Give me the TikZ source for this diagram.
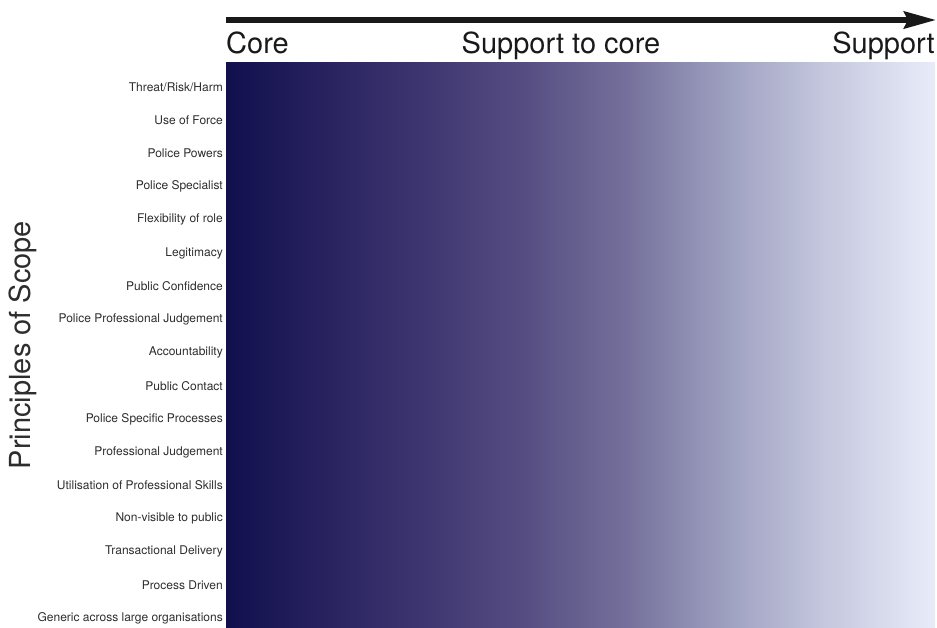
\documentclass[tikz,border=0pt]{standalone}
\usepackage{fontspec}
\setmainfont{TeX Gyre Heros}
\usepackage{tikz}
\usetikzlibrary{arrows.meta}
\usepackage{xcolor}
\definecolor{scopeink}{RGB}{45,45,45}
\definecolor{axisink}{RGB}{25,25,25}
\definecolor{fadeA}{RGB}{17,15,78}
\definecolor{fadeB}{RGB}{40,35,96}
\definecolor{fadeC}{RGB}{62,54,112}
\definecolor{fadeD}{RGB}{86,78,130}
\definecolor{fadeE}{RGB}{116,112,155}
\definecolor{fadeF}{RGB}{158,160,192}
\definecolor{fadeG}{RGB}{197,200,222}
\definecolor{fadeH}{RGB}{232,236,249}
\pgfdeclarehorizontalshading{scopefade}{100bp}{
  color(0bp)=(fadeA); color(25bp)=(fadeA); color(32.05bp)=(fadeB);
  color(39.1bp)=(fadeC); color(46.15bp)=(fadeD); color(53.2bp)=(fadeE);
  color(60.25bp)=(fadeF); color(67.3bp)=(fadeG); color(75bp)=(fadeH);
  color(100bp)=(fadeH)}

\begin{document}
\begin{tikzpicture}[
  x=1pt, y=-1pt,
  every node/.style={inner sep=0pt},
  band/.style={shading=scopefade, minimum width=709pt, minimum height=565pt},
  end/.style={font=\fontsize{29}{32}\selectfont, text=axisink},
  principle/.style={anchor=east, font=\fontsize{12}{14}\selectfont, text=scopeink},
  axis/.style={line width=5.5pt, draw=axisink,
               -{Stealth[length=32pt, width=17pt, inset=4pt]}}
]
\useasboundingbox (0,0) rectangle (937,627);

\node[band] (band) at (580.5,344.5) {};

\coordinate (axisL) at (226,20);
\coordinate (axisR) at (936,20);
\draw[axis] (axisL) -- (axisR);

\node[end, anchor=base west] (core)    at (226,53) {Core};
\node[end, anchor=base]      (tocore)  at (561,53) {Support to core};
\node[end, anchor=base east] (support) at (935,53) {Support};

\node[end, rotate=90, text=scopeink] (scope) at (23,345) {Principles of Scope};

\foreach \lbl [count=\i] in {
  Threat/Risk/Harm,
  Use of Force,
  Police Powers,
  Police Specialist,
  Flexibility of role,
  Legitimacy,
  Public Confidence,
  Police Professional Judgement,
  Accountability,
  Public Contact,
  Police Specific Processes,
  Professional Judgement,
  Utilisation of Professional Skills,
  Non-visible to public,
  Transactional Delivery,
  Process Driven,
  Generic across large organisations}
  \node[principle] (p\i) at (223,{87+(\i-1)*33.19}) {\lbl};

\end{tikzpicture}
\end{document}
